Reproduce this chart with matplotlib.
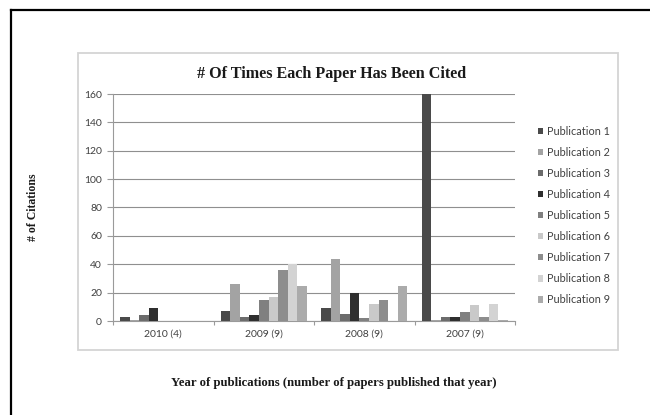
"""Grouped bar chart of citation counts per publication year."""

import matplotlib
matplotlib.use("Agg")
import matplotlib.pyplot as plt
import numpy as np
from matplotlib.lines import Line2D
from matplotlib.patches import Rectangle

years = ["2010 (4)", "2009 (9)", "2008 (9)", "2007 (9)"]
series = [f"Publication {i}" for i in range(1, 10)]

# citations per publication, one list per series, ordered as `years`
pub1 = [3, 7, 9, 160]
pub2 = [1, 26, 44, 1]
pub3 = [4, 3, 5, 3]
pub4 = [9, 4, 20, 3]
pub5 = [0, 15, 2, 6]
pub6 = [0, 17, 12, 11]
pub7 = [0, 36, 15, 3]
pub8 = [0, 40, 0, 12]
pub9 = [0, 25, 25, 1]
values = [pub1, pub2, pub3, pub4, pub5, pub6, pub7, pub8, pub9]

colors = ["#4a4a4a", "#a3a3a3", "#6c6c6c", "#2f2f2f", "#808080",
          "#c9c9c9", "#8d8d8d", "#d3d3d3", "#ababab"]

W, H = 650, 415
fig = plt.figure(figsize=(W / 100, H / 100), dpi=100)
fig.patch.set_facecolor("white")


def px(x, y):
    return x / W, 1 - y / H


# page frame (top and left edges only)
fig.add_artist(Line2D([px(11, 0)[0], 1.0], [px(0, 10)[1]] * 2, color="black", lw=1.6))
fig.add_artist(Line2D([px(11, 0)[0]] * 2, [0.0, px(0, 10)[1]], color="black", lw=1.6))

# chart area border
x0, y0 = px(78, 350)
x1, y1 = px(618, 53)
fig.add_artist(Rectangle((x0, y0), x1 - x0, y1 - y0, fill=False,
                         edgecolor="#d4d4d4", lw=1.3, transform=fig.transFigure))

left, bottom = px(113, 321)
right, top = px(515, 94)
ax = fig.add_axes([left, bottom, right - left, top - bottom])

n = len(series)
width = 1 / (n + 1.5)
x = np.arange(len(years)) + 0.5
for i, (name, vals, col) in enumerate(zip(series, values, colors)):
    ax.bar(x + (i - (n - 1) / 2) * width, vals, width, color=col,
           linewidth=0, label=name, zorder=3)

ax.set_xlim(0, len(years))
ax.set_ylim(0, 160)
ax.set_yticks(range(0, 161, 20))
ax.set_xticks(range(len(years) + 1))
ax.set_xticklabels([])
ax.set_xticks(x, minor=True)
ax.set_xticklabels(years, minor=True)
ax.tick_params(axis="x", which="minor", length=0, pad=6, labelsize=7.5, labelcolor="#404040")
ax.tick_params(axis="x", which="major", length=3, color="#9a9a9a", width=0.8)
ax.tick_params(axis="y", length=4, color="#9a9a9a", width=0.8, pad=4,
               labelsize=7.5, labelcolor="#404040")
for lab in ax.get_xticklabels(minor=True) + ax.get_yticklabels():
    lab.set_fontfamily("Lato")

ax.yaxis.grid(True, color="#8f8f8f", linewidth=0.8, zorder=0)
ax.set_axisbelow(True)
for side in ("top", "right"):
    ax.spines[side].set_visible(False)
for side in ("left", "bottom"):
    ax.spines[side].set_color("#9a9a9a")
    ax.spines[side].set_linewidth(0.8)
ax.set_facecolor("none")

fig.text(*px(332, 74), "# Of Times Each Paper Has Been Cited", ha="center", va="center",
         fontsize=11.6, fontweight="bold", family="Liberation Serif", color="#1a1a1a")
fig.text(*px(33, 207), "# of Citations", ha="center", va="center", rotation=90,
         fontsize=8.5, fontweight="bold", family="Liberation Serif", color="#1a1a1a")
fig.text(*px(334, 383), "Year of publications (number of papers published that year)",
         ha="center", va="center", fontsize=9.2, fontweight="bold",
         family="Liberation Serif", color="#1a1a1a")

leg = ax.legend(loc="upper left", bbox_to_anchor=(px(528, 0)[0], px(0, 116)[1]),
                bbox_transform=fig.transFigure, frameon=False, handlelength=0.5,
                handleheight=0.5, handletextpad=0.35, labelspacing=0.93,
                prop={"family": "Lato", "size": 7.8})
for t in leg.get_texts():
    t.set_color("#404040")

fig.savefig("out.png", dpi=100, facecolor="white")
